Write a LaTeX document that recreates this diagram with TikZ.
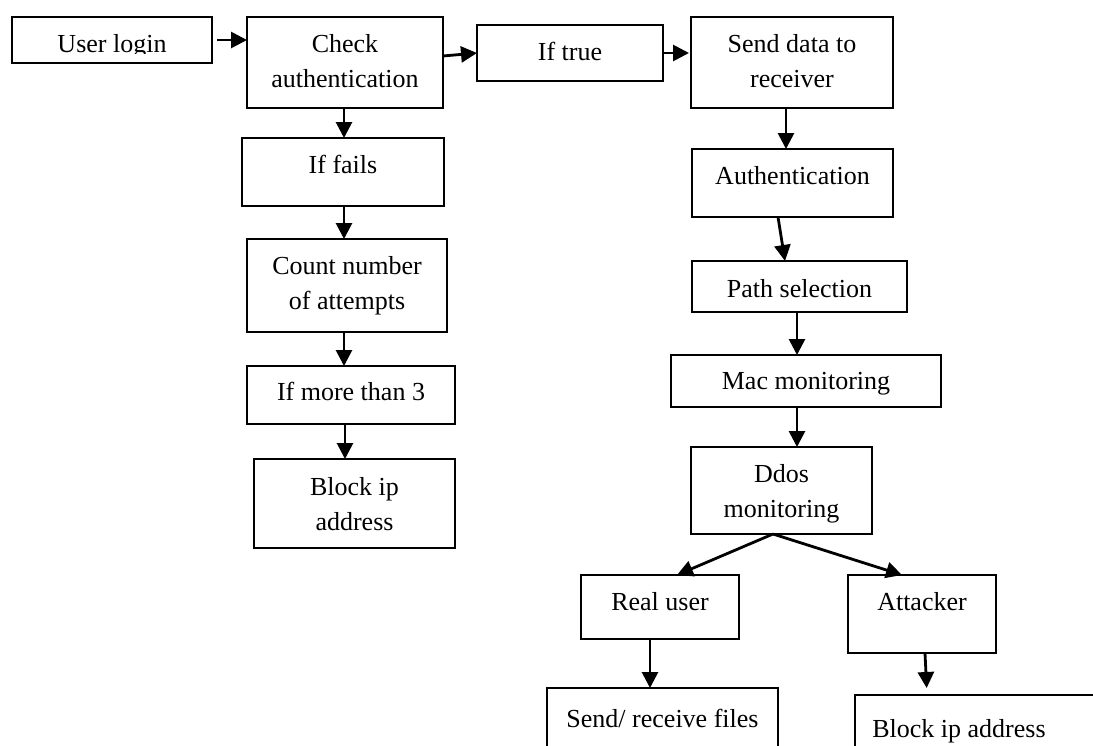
\documentclass[tikz,border=0pt]{standalone}
\usepackage{fontspec}
\setmainfont{Liberation Serif}
\usetikzlibrary{arrows.meta,calc}

\tikzset{
  fbx/.style={draw=black, line width=2.2pt, rectangle, inner sep=0pt, outer sep=0pt},
  txt/.style={anchor=base, inner sep=0pt, outer sep=0pt,
              font=\fontsize{26}{35}\selectfont},
  flow/.style={line width=2.8pt, -{Triangle[length=16pt,width=16pt]}},
}

% box: name, x1, y1, x2, y2, baseline of first text line, text
\newcommand{\flowbox}[7]{%
  \node[fbx, minimum width={#4pt-#2pt}, minimum height={#5pt-#3pt}]
    (#1) at ({(#2+#4)/2},{(#3+#5)/2}) {};
  \node[txt] (#1-t) at ({(#2+#4)/2},#6) {#7};
}
\newcommand{\twolines}[2]{\begin{tabular}[t]{@{}c@{}}#1\\#2\end{tabular}}

\begin{document}
\begin{tikzpicture}[x=1pt, y=-1pt]
  \useasboundingbox (0,0) rectangle (1093,745);
  \clip (0,0) rectangle (1093,745);

  % first box, its text cut at the inner edge
  \node[fbx, minimum width=200pt, minimum height=46pt] (ul) at (112,40) {};
  \begin{scope}
    \clip (12,17) rectangle (212,53);
    \node[txt] (ul-t) at (112,52) {User login};
  \end{scope}

  \flowbox{ca}{247}{17}{443}{108}{52}{\twolines{Check}{authentication}}
  \flowbox{it}{477}{25}{663}{81}{60}{If true}
  \flowbox{sd}{691}{17}{893}{108}{52}{\twolines{Send data to}{receiver}}

  % failure branch
  \flowbox{if}{242}{138}{444}{206}{173}{If fails}
  \flowbox{cn}{247}{239}{447}{332}{274}{\twolines{Count number}{of attempts}}
  \flowbox{mt}{247}{366}{455}{424}{400}{If more than 3}
  \flowbox{bl}{254}{459}{455}{548}{495}{\twolines{Block ip}{address}}

  % success branch
  \flowbox{au}{692}{149}{893}{217}{184}{Authentication}
  \flowbox{ps}{692}{261}{907}{312}{297}{Path selection}
  \flowbox{mm}{671}{355}{941}{407}{389}{Mac monitoring}
  \flowbox{dd}{691}{447}{872}{534}{482}{\twolines{Ddos}{monitoring}}
  \flowbox{ru}{581}{575}{739}{639}{610}{Real user}
  \flowbox{at}{848}{575}{996}{653}{610}{Attacker}
  \flowbox{sr}{547}{688}{778}{760}{727}{Send/ receive files}
  \node[fbx, minimum width=245pt, minimum height=65pt] (br) at (977.5,727.5) {};
  \node[txt] (br-t) at (959,737) {Block ip address};

  % connectors
  \draw[flow, shorten <=5pt] (ul.east) -- (ul.east -| ca.west);
  \draw[flow] ([yshift=6.5pt]ca.east) -- (it.west);
  \draw[flow, shorten >=2pt] (it.east) -- (it.east -| sd.west);
  \draw[flow] ([xshift=-6pt]sd.south) -- ([xshift=-6pt]sd.south |- au.north);

  \draw[flow] ([xshift=-1pt]ca.south) -- ([xshift=-1pt]ca.south |- if.north);
  \draw[flow] ([xshift=1pt]if.south) -- ([xshift=1pt]if.south |- cn.north);
  \draw[flow] ([xshift=-3pt]cn.south) -- ([xshift=-3pt]cn.south |- mt.north);
  \draw[flow] ([xshift=-6pt]mt.south) -- ([xshift=-6pt]mt.south |- bl.north);

  \draw[flow] ([xshift=-14.5pt]au.south) -- ([xshift=-14.5pt]ps.north);
  \draw[flow] ([xshift=-2.5pt]ps.south) -- ([xshift=-2.5pt]ps.south |- mm.north);
  \draw[flow] ([xshift=-9pt]mm.south) -- ([xshift=-9pt]mm.south |- dd.north);

  \draw[flow] ([xshift=-8.5pt]dd.south) -- ([xshift=17pt]ru.north);
  \draw[flow] ([xshift=-8.5pt]dd.south) -- ([xshift=-20pt]at.north);
  \draw[flow] ([xshift=-10pt]ru.south) -- ([xshift=-10pt]ru.south |- sr.north);
  \draw[flow, shorten >=7pt] ([xshift=3pt]at.south) -- ([xshift=5pt]at.south |- br.north);
\end{tikzpicture}
\end{document}
